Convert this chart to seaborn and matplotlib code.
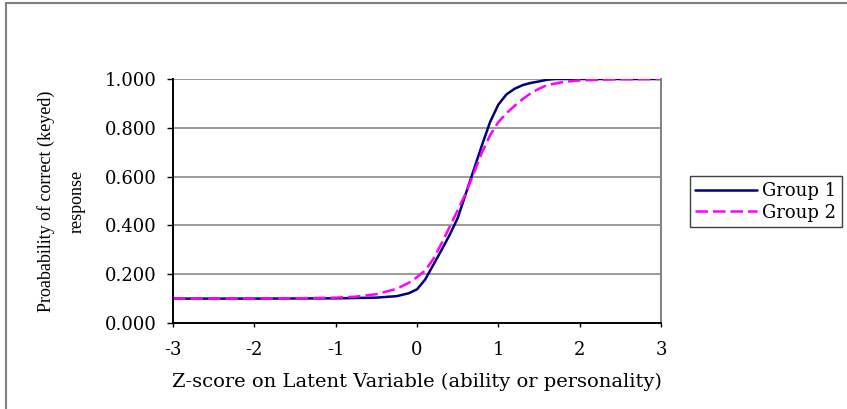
import matplotlib
matplotlib.use("Agg")
import matplotlib.pyplot as plt
from matplotlib.patches import Rectangle
from matplotlib.ticker import FormatStrFormatter
import pandas as pd
import seaborn as sns

# ---- data ----
z_group1 = [-3, -2, -1, -0.5, -0.25, -0.1, 0, 0.1, 0.2, 0.3, 0.4, 0.5, 0.6, 0.7,
            0.8, 0.9, 1.0, 1.1, 1.2, 1.3, 1.4, 1.5, 1.6, 1.7, 2, 3]
p_group1 = [0.100, 0.100, 0.101, 0.104, 0.110, 0.122, 0.138, 0.178, 0.238, 0.298,
            0.360, 0.430, 0.530, 0.630, 0.730, 0.825, 0.895, 0.937, 0.960, 0.975,
            0.984, 0.990, 0.997, 1.000, 1.000, 1.000]

z_group2 = [-3, -2, -1.5, -1, -0.75, -0.5, -0.25, -0.1, 0, 0.1, 0.2, 0.3, 0.4, 0.5,
            0.6, 0.7, 0.8, 0.9, 1.0, 1.1, 1.2, 1.3, 1.4, 1.5, 1.6, 1.8, 2.0, 2.25,
            2.5, 3]
p_group2 = [0.100, 0.100, 0.101, 0.104, 0.108, 0.118, 0.140, 0.165, 0.188, 0.215,
            0.262, 0.325, 0.393, 0.462, 0.532, 0.615, 0.700, 0.770, 0.823, 0.860,
            0.890, 0.918, 0.942, 0.960, 0.975, 0.988, 0.994, 0.997, 0.999, 1.000]

group_names = ["Group 1", "Group 2"]
x_ticks = [-3, -2, -1, 0, 1, 2, 3]
y_ticks = [0.0, 0.2, 0.4, 0.6, 0.8, 1.0]
x_label = "Z-score on Latent Variable (ability or personality)"
y_label = "Proabability of correct (keyed)\nresponse"

df = pd.concat([
    pd.DataFrame({"z": z_group1, "p": p_group1, "Group": group_names[0]}),
    pd.DataFrame({"z": z_group2, "p": p_group2, "Group": group_names[1]}),
], ignore_index=True)

# ---- style ----
sns.set_style("white")
plt.rcParams["font.family"] = ["DejaVu Serif"]
plt.rcParams["text.color"] = "black"
plt.rcParams["axes.labelcolor"] = "black"
plt.rcParams["xtick.color"] = "black"
plt.rcParams["ytick.color"] = "black"

fig = plt.figure(figsize=(8.47, 4.09), dpi=100)
ax = fig.add_axes([173 / 847, 1 - 323 / 409, (661 - 173) / 847, (323 - 79) / 409])

palette = {"Group 1": "#000080", "Group 2": "#FF00FF"}
dashes = {"Group 1": "", "Group 2": (5, 2)}
sns.lineplot(data=df, x="z", y="p", hue="Group", style="Group",
             palette=palette, dashes=dashes, linewidth=1.8,
             estimator=None, sort=True, ax=ax)

ax.set_xlim(-3, 3)
ax.set_ylim(0, 1)
ax.set_xticks(x_ticks)
ax.set_yticks(y_ticks)
ax.yaxis.set_major_formatter(FormatStrFormatter("%.3f"))
ax.set_xticklabels([str(t) for t in x_ticks])

ax.grid(axis="y", color="#808080", linewidth=1.1)
ax.grid(axis="x", visible=False)
ax.set_axisbelow(True)

for side in ["left", "bottom"]:
    ax.spines[side].set_color("black")
    ax.spines[side].set_linewidth(1.4)
ax.spines["right"].set_color("#808080")
ax.spines["right"].set_linewidth(1.4)
ax.spines["top"].set_visible(False)

ax.tick_params(axis="y", direction="out", length=4, width=1, color="black",
               pad=7.5, labelsize=13, labelcolor="black")
ax.tick_params(axis="x", direction="out", length=3, width=1, color="black",
               pad=10, labelsize=13, labelcolor="black")
ax.tick_params(left=True, bottom=True)

ax.set_xlabel(x_label, fontsize=14, color="black")
ax.xaxis.label.set_verticalalignment("top")
ax.xaxis.set_label_coords(0.5, -0.205)

ax.set_ylabel(y_label, fontsize=13, family=["Liberation Serif"], linespacing=2.1,
              color="black")
ax.yaxis.label.set_verticalalignment("center")
ax.yaxis.set_label_coords(-0.2285, 0.5)

# legend
ax.get_legend().remove()
handles, labels = ax.get_legend_handles_labels()
leg = fig.legend(handles, labels, loc="center left",
                 bbox_to_anchor=(690 / 847, 1 - 201.7 / 409),
                 bbox_transform=fig.transFigure,
                 fontsize=13, frameon=True, fancybox=False, shadow=False,
                 handlelength=3.4, handletextpad=0.3, borderpad=0.3,
                 labelspacing=0.2, borderaxespad=0)
leg.get_frame().set_edgecolor("#404040")
leg.get_frame().set_linewidth(1.0)
leg.get_frame().set_alpha(1)
for t in leg.get_texts():
    t.set_color("black")

# outer chart border (left and top visible)
fig.add_artist(Rectangle((5.5 / 847, -0.1), 1.2, 1.1 - 3.5 / 409,
                         transform=fig.transFigure, fill=False,
                         edgecolor="#808080", linewidth=1.5, clip_on=False))

fig.savefig("out.png", dpi=100)
